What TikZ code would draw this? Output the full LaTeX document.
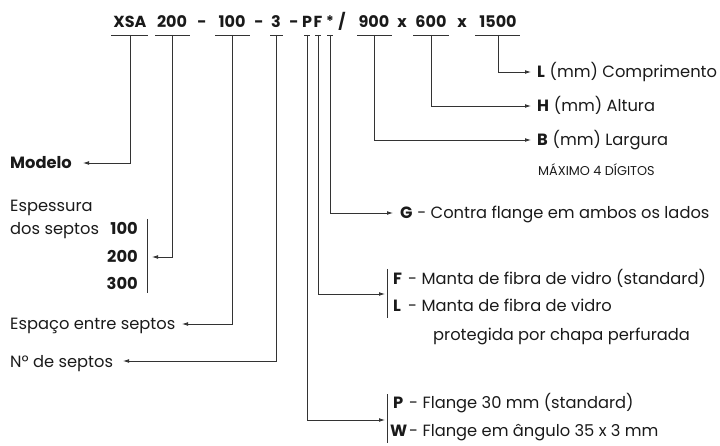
\documentclass[tikz,border=0pt]{standalone}
\usepackage{fontspec}
\setmainfont{Poppins}
\usetikzlibrary{arrows.meta}
\definecolor{ink}{HTML}{1A1A1A}
\definecolor{wire}{HTML}{333333}
\tikzset{
  ln/.style={draw=wire, line width=0.8pt},
  arr/.style={ln, -{Latex[length=6pt,width=3.8pt]}},
  txt/.style={inner sep=0pt, anchor=base west, text=ink, font=\fontsize{16.3}{18}\selectfont},
  bld/.style={txt, font=\fontsize{16.3}{18}\selectfont\bfseries},
  bldr/.style={bld, anchor=base east},
  sml/.style={txt, font=\fontsize{12.8}{14}\selectfont},
  ttl/.style={inner sep=0pt, anchor=base, text=ink, font=\fontsize{16}{18}\selectfont\bfseries},
}
\begin{document}
\begin{tikzpicture}[x=1pt,y=-1pt]
\useasboundingbox (0,0) rectangle (720,446);
% ---- title
\node[ttl] (tXSA) at (130,27.5) {XSA};
\node[ttl] (t200) at (172,27.5) {200};
\node[ttl] (d1) at (202,27.5) {-};
\node[ttl] (t100) at (232,27.5) {100};
\node[ttl] (d2) at (259,27.5) {-};
\node[ttl] (t3) at (276,27.5) {3};
\node[ttl] (d3) at (294,27.5) {-};
\node[ttl] (tP) at (307,27.5) {P};
\node[ttl] (tF) at (318,27.5) {F};
\node[ttl, font=\fontsize{14.5}{16}\selectfont\bfseries] (tS) at (330,27) {*};
\node[ttl] (sl) at (342,27.5) {/};
\node[ttl] (t900) at (374,27.5) {900};
\node[ttl] (x1) at (402,27.5) {x};
\node[ttl] (t600) at (431,27.5) {600};
\node[ttl] (x2) at (462,27.5) {x};
\node[ttl] (t1500) at (498,27.5) {1500};
% ---- underlines
\foreach \a/\b in {111/148,155/190,215/250,270/283,304/310,315/321,327/333,357/392,413/449,475/520}
  \draw[ln] (\a,35) -- (\b,35);
% ---- stem start coordinates
\coordinate (sXSA) at (130,35);
\coordinate (s200) at (172,35);
\coordinate (s100) at (232,35);
\coordinate (s3) at (276,35);
\coordinate (sP) at (307,35);
\coordinate (sF) at (318,35);
\coordinate (sS) at (330,35);
\coordinate (s900) at (374,35);
\coordinate (s600) at (431,35);
\coordinate (s1500) at (498,35);
% ---- arrow tips
\coordinate (aModelo) at (83,163);
\coordinate (aEsp) at (152,257);
\coordinate (aEspaco) at (182,324);
\coordinate (aNum) at (123,361);
\coordinate (aPW) at (385,420);
\coordinate (aFL) at (385,294);
\coordinate (aG) at (393,213);
\coordinate (aB) at (531,140);
\coordinate (aH) at (531,106);
\coordinate (aL) at (531,72);
% ---- left labels
\node[bld] (modelo) at (10,169) {Modelo};
\node[txt] (espessura) at (10,212) {Espessura};
\node[txt] (dos) at (10,235) {dos septos};
\node[bldr] (v100) at (138,235) {100};
\node[bldr] (v200) at (138,263) {200};
\node[bldr] (v300) at (138,290) {300};
\draw[ln] (147,219) -- (147,293);
\node[txt] (espaco) at (10,330) {Espaço entre septos};
\node[txt] (num) at (10,367) {Nº de septos};
% ---- right labels
\node[bld] (lL) at (537,78) {L};
\node[txt] (lLt) at (lL.base east) [anchor=base west] {\ (mm) Comprimento};
\node[bld] (lH) at (537,112) {H};
\node[txt] (lHt) at (lH.base east) [anchor=base west] {\ (mm) Altura};
\node[bld] (lB) at (537,146) {B};
\node[txt] (lBt) at (lB.base east) [anchor=base west] {\ (mm) Largura};
\node[sml] (max) at (538,176) {MÁXIMO 4 DÍGITOS};
\node[bld] (lG) at (400,219) {G};
\node[txt] (lGt) at (lG.base east) [anchor=base west] {\ - Contra flange em ambos os lados};
\node[bld] (lF) at (393,284) {F};
\node[txt] (lFt) at (408,284) {- Manta de fibra de vidro (standard)};
\node[bld] (lL2) at (393,312) {L};
\node[txt] (lLt2) at (408,312) {- Manta de fibra de vidro};
\node[txt] (lLt3) at (433,340) {protegida por chapa perfurada};
\draw[ln] (387,269) -- (387,318);
\node[bld] (lP) at (393,408) {P};
\node[txt] (lPt) at (409,408) {- Flange 30 mm (standard)};
\node[bld] (lW) at (390,436) {W};
\node[txt] (lWt) at (409,436) {- Flange em ângulo 35 x 3 mm};
\draw[ln] (387,394) -- (387,443);
% ---- connectors
\draw[arr] (sXSA) |- (aModelo);
\draw[arr] (s200) |- (aEsp);
\draw[arr] (s100) |- (aEspaco);
\draw[arr] (s3) |- (aNum);
\draw[arr] (sP) |- (aPW);
\draw[arr] (sF) |- (aFL);
\draw[arr] (sS) |- (aG);
\draw[arr] (s900) |- (aB);
\draw[arr] (s600) |- (aH);
\draw[arr] (s1500) |- (aL);
\end{tikzpicture}
\end{document}
